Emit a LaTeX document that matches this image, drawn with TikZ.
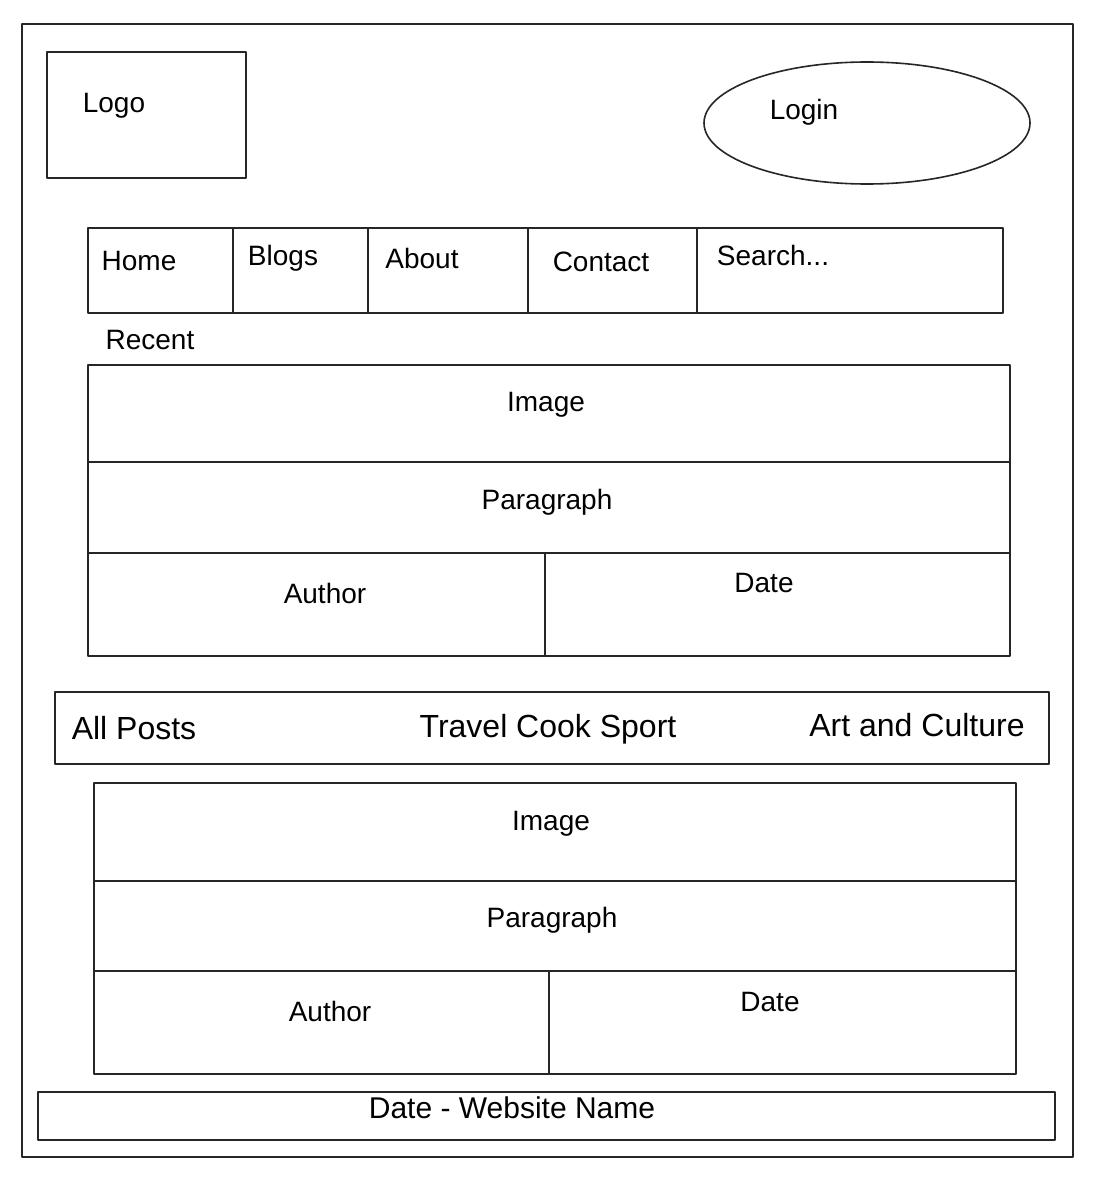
\documentclass[tikz,border=0pt]{standalone}
\usepackage{fontspec}
\setmainfont{Liberation Sans}
\begin{document}
\begin{tikzpicture}[x=1pt,y=-1pt,
  line/.style={draw=black!85,line width=1.6pt,line join=round,line cap=round},
  txt/.style={anchor=base,inner sep=0pt,font=\fontsize{28}{30}\selectfont},
  bigtxt/.style={anchor=base,inner sep=0pt,font=\fontsize{32}{34}\selectfont},
  foottxt/.style={anchor=base,inner sep=0pt,font=\fontsize{30}{32}\selectfont}]
\useasboundingbox (0,0) rectangle (1096,1180);
\fill[white] (0,0) rectangle (1096,1180);

% page frame
\draw[line] (22,24) rectangle (1073,1157);

% header: logo box and login ellipse
\draw[line] (47,52) rectangle (246,178);
\node[txt] (logo) at (114,113) {Logo};
\draw[line] (867,123) ellipse [x radius=163,y radius=61];
\node[txt] (login) at (804,120) {Login};

% navigation bar
\draw[line] (88,228) rectangle (1003,313);
\foreach \x in {233,368,528,697} \draw[line] (\x,228) -- (\x,313);
\node[txt] (home)    at (139,270) {Home};
\node[txt] (blogs)   at (283,265) {Blogs};
\node[txt] (about)   at (422,268) {About};
\node[txt] (contact) at (601,271) {Contact};
\node[txt] (search)  at (773,265) {Search...};

\node[txt] (recent) at (150,349) {Recent};

% recent post card
\draw[line] (88,365) rectangle (1010,656);
\draw[line] (88,462) -- (1010,462);
\draw[line] (88,553) -- (1010,553);
\draw[line] (545,553) -- (545,656);
\node[txt] (img1)  at (546,411) {Image};
\node[txt] (par1)  at (547,509) {Paragraph};
\node[txt] (auth1) at (325,603) {Author};
\node[txt] (date1) at (764,592) {Date};

% category bar
\draw[line] (55,692) rectangle (1049,764);
\node[bigtxt] (allposts) at (134,739) {All Posts};
\node[bigtxt] (cats)     at (548,737) {Travel Cook Sport};
\node[bigtxt] (art)      at (917,736) {Art and Culture};

% post card
\draw[line] (94,783) rectangle (1016,1074);
\draw[line] (94,881) -- (1016,881);
\draw[line] (94,971) -- (1016,971);
\draw[line] (549,971) -- (549,1074);
\node[txt] (img2)  at (551,830) {Image};
\node[txt] (par2)  at (552,927) {Paragraph};
\node[txt] (auth2) at (330,1021) {Author};
\node[txt] (date2) at (770,1011) {Date};

% footer
\draw[line] (38,1092) rectangle (1055,1140);
\node[foottxt] (footer) at (512,1118) {Date - Website Name};
\end{tikzpicture}
\end{document}
